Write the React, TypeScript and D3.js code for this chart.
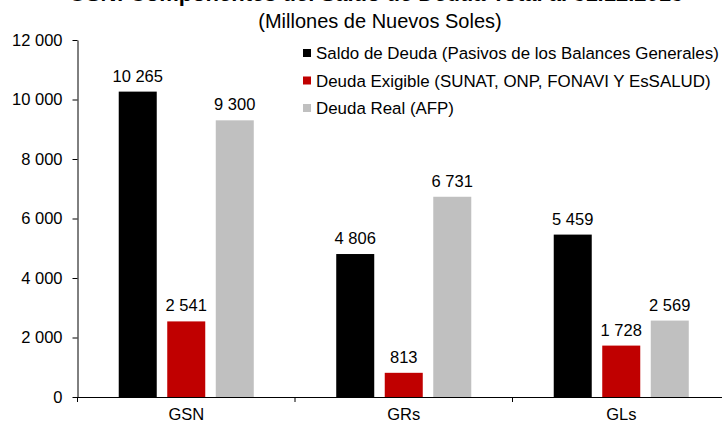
import React, { useRef, useEffect } from "react";
import * as d3 from "d3";

const categories = ["GSN", "GRs", "GLs"];
const seriesNames = [
  "Saldo de Deuda (Pasivos de los Balances Generales)",
  "Deuda Exigible (SUNAT, ONP, FONAVI Y EsSALUD)",
  "Deuda Real (AFP)",
];
const saldoDeuda = [10265, 4806, 5459];
const deudaExigible = [2541, 813, 1728];
const deudaReal = [9300, 6731, 2569];
const yTicks = [0, 2000, 4000, 6000, 8000, 10000, 12000];
const colors = ["#000000", "#C00000", "#C0C0C0"];

const W = 722;
const H = 425;
const FONT = "'Liberation Sans', Arial, sans-serif";

const fmt = (v: number) => d3.format(",")(v).replace(/,/g, " ");

const App = () => {
  const svgRef = useRef<SVGSVGElement>(null);

  useEffect(() => {
    const svg = d3.select(svgRef.current);
    svg.selectAll("*").remove();

    const left = 77.5;
    const bottom = 397;
    const top = 40;

    const series = [saldoDeuda, deudaExigible, deudaReal];

    const x = d3.scaleBand().domain(categories).range([left, left + 217.5 * 3]);
    const xInner = d3
      .scaleBand<number>()
      .domain([0, 1, 2])
      .range([0, x.bandwidth()])
      .paddingInner(0.2165)
      .paddingOuter(0.85);
    const y = d3.scaleLinear().domain([0, 12000]).range([bottom, top]);

    // Titles (main title is cropped at the top edge, as in the source)
    svg
      .append("text")
      .attr("x", 376)
      .attr("y", 1)
      .attr("text-anchor", "middle")
      .attr("font-family", FONT)
      .attr("font-weight", "bold")
      .attr("font-size", 22)
      .text("GSN: Componentes del Saldo de Deuda Total al 31.12.2013");

    svg
      .append("text")
      .attr("x", 380)
      .attr("y", 28)
      .attr("text-anchor", "middle")
      .attr("font-family", FONT)
      .attr("font-size", 20)
      .text("(Millones de Nuevos Soles)");

    // Bars
    series.forEach((vals, si) => {
      const g = svg.append("g");
      g.selectAll("rect")
        .data(vals)
        .enter()
        .append("rect")
        .attr("x", (d, i) => x(categories[i])! + xInner(si)!)
        .attr("width", xInner.bandwidth())
        .attr("y", (d) => y(d))
        .attr("height", (d) => bottom - y(d))
        .attr("fill", colors[si]);

      g.selectAll("text")
        .data(vals)
        .enter()
        .append("text")
        .attr("x", (d, i) => x(categories[i])! + xInner(si)! + xInner.bandwidth() / 2)
        .attr("y", (d) => y(d) - 10)
        .attr("text-anchor", "middle")
        .attr("font-family", FONT)
        .attr("font-size", 16.5)
        .attr("fill", "#000")
        .text((d) => fmt(d));
    });

    // Y axis
    const yAxis = svg
      .append("g")
      .attr("transform", `translate(${left},0)`)
      .call(
        d3
          .axisLeft(y)
          .tickValues(yTicks)
          .tickSize(5)
          .tickSizeOuter(0)
          .tickPadding(10)
          .tickFormat((d) => fmt(d as number))
      );
    yAxis.select(".domain").attr("stroke", "#000");
    yAxis.selectAll("line").attr("stroke", "#000");
    yAxis
      .selectAll("text")
      .attr("font-family", FONT)
      .attr("font-size", 16.5)
      .attr("fill", "#000");

    // X axis
    const xAxis = svg
      .append("g")
      .attr("transform", `translate(0,${bottom})`)
      .call(d3.axisBottom(x).tickSize(0).tickSizeOuter(0).tickPadding(11));
    xAxis.select(".domain").attr("stroke", "#000");
    xAxis
      .selectAll("text")
      .attr("font-family", FONT)
      .attr("font-size", 16.5)
      .attr("fill", "#000");
    // category boundary ticks
    xAxis
      .selectAll("line.sep")
      .data(categories)
      .enter()
      .append("line")
      .attr("class", "sep")
      .attr("x1", (d) => x(d)!)
      .attr("x2", (d) => x(d)!)
      .attr("y1", 0)
      .attr("y2", 5)
      .attr("stroke", "#000");

    // Legend
    const legend = svg.append("g").attr("transform", "translate(303,0)");
    seriesNames.forEach((name, i) => {
      const cy = 53 + i * 27.5;
      legend
        .append("rect")
        .attr("x", 0)
        .attr("y", cy - 4)
        .attr("width", 8)
        .attr("height", 8)
        .attr("fill", colors[i]);
      legend
        .append("text")
        .attr("x", 13)
        .attr("y", cy + 6)
        .attr("font-family", FONT)
        .attr("font-size", 16.9)
        .attr("fill", "#000")
        .text(name);
    });
  }, []);

  return (
    <svg
      ref={svgRef}
      width={W}
      height={H}
      style={{ position: "absolute", left: 0, top: 0, background: "#fff" }}
    ></svg>
  );
};

export default App;
